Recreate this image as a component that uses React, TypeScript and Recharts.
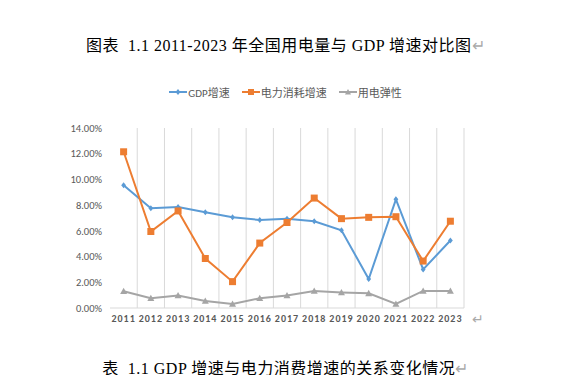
import React from "react";
import { LineChart, Line, XAxis, YAxis, CartesianGrid, Legend } from "recharts";

const years = ["2011", "2012", "2013", "2014", "2015", "2016", "2017", "2018", "2019", "2020", "2021", "2022", "2023"];
const gdpGrowth = [9.55, 7.75, 7.85, 7.45, 7.05, 6.85, 6.95, 6.75, 6.05, 2.25, 8.45, 3.0, 5.25];
const powerGrowth = [12.15, 5.95, 7.55, 3.85, 2.05, 5.05, 6.65, 8.55, 6.95, 7.05, 7.1, 3.65, 6.75];
const elasticity = [1.3, 0.76, 0.98, 0.55, 0.31, 0.76, 0.98, 1.32, 1.21, 1.14, 0.31, 1.33, 1.33];
const yTicks = [0, 2, 4, 6, 8, 10, 12, 14];

const series = [
  { key: "gdp", name: "GDP增速", color: "#5B9BD5", shape: "diamond" },
  { key: "power", name: "电力消耗增速", color: "#ED7D31", shape: "square" },
  { key: "elastic", name: "用电弹性", color: "#A5A5A5", shape: "triangle" },
];

const data = years.map((y, i) => ({
  idx: i,
  year: y,
  gdp: gdpGrowth[i],
  power: powerGrowth[i],
  elastic: elasticity[i],
}));

const caption = { fontFamily: "'Liberation Serif', 'Noto Sans CJK SC', serif", color: "#000", letterSpacing: 0.5 };

function Marker({ cx, cy, shape, color, s }: any) {
  if (cx == null || cy == null) return null;
  if (shape === "square") {
    return <rect x={cx - s} y={cy - s} width={s * 2} height={s * 2} fill={color} />;
  }
  if (shape === "triangle") {
    return <polygon points={`${cx},${cy - s} ${cx + s},${cy + s * 0.8} ${cx - s},${cy + s * 0.8}`} fill={color} />;
  }
  return <polygon points={`${cx},${cy - s} ${cx + s * 0.8},${cy} ${cx},${cy + s} ${cx - s * 0.8},${cy}`} fill={color} />;
}

function makeDot(shape: string, color: string, s: number) {
  return (props: any) => <Marker key={props.index} cx={props.cx} cy={props.cy} shape={shape} color={color} s={s} />;
}

function LegendContent() {
  return (
    <div style={{ display: "flex", justifyContent: "center", gap: 12, fontSize: 11, color: "#595959" }}>
      {series.map((s) => (
        <div key={s.key} style={{ display: "flex", alignItems: "center" }}>
          <svg width={18} height={10}>
            <line x1={0} y1={5} x2={18} y2={5} stroke={s.color} strokeWidth={2} />
            <Marker cx={9} cy={5} shape={s.shape} color={s.color} s={3} />
          </svg>
          <span style={{ marginLeft: 1 }}>{s.name}</span>
        </div>
      ))}
    </div>
  );
}

export default function App() {
  return (
    <div style={{ position: "relative", width: 571, height: 383, margin: -8, background: "#fff" }}>
      <div style={{ ...caption, position: "absolute", top: 32, left: 0, width: 571, textAlign: "center", fontSize: 16 }}>
        图表&nbsp; 1.1 2011-2023 年全国用电量与 GDP 增速对比图<span style={{ color: "#aaa" }}>↵</span>
      </div>
      <LineChart
        width={571}
        height={383}
        data={data}
        margin={{ top: 112, right: 107, left: 61, bottom: 45 }}
        style={{ fontFamily: "Calibri, 'Liberation Sans', 'Noto Sans CJK SC', sans-serif" }}
      >
        <CartesianGrid
          horizontal={false}
          stroke="#d9d9d9"
          verticalCoordinatesGenerator={({ offset }: any) =>
            years.map((_, i) => offset.left + ((i + 1) * offset.width) / years.length)
          }
        />
        <XAxis
          dataKey="idx"
          type="number"
          domain={[-0.5, years.length - 0.5]}
          ticks={data.map((d) => d.idx)}
          tickFormatter={(v: number) => years[v]}
          interval={0}
          height={30}
          stroke="#d9d9d9"
          tickLine={false}
          tickSize={0}
          tickMargin={7}
          tick={{ fontSize: 10, fill: "#595959", letterSpacing: 1, fontWeight: 600 }}
        />
        <YAxis
          domain={[0, 14]}
          ticks={yTicks}
          width={49}
          axisLine={false}
          tickLine={false}
          tickSize={0}
          tickMargin={8}
          tickFormatter={(v: number) => `${v.toFixed(2)}%`}
          tick={{ fontSize: 10.5, fill: "#595959" }}
        />
        <Legend verticalAlign="top" wrapperStyle={{ top: 84, left: 0, width: 571 }} content={() => <LegendContent />} />
        {series.map((s) => (
          <Line
            key={s.key}
            type="linear"
            dataKey={s.key}
            name={s.name}
            stroke={s.color}
            strokeWidth={2}
            dot={makeDot(s.shape, s.color, s.shape === "diamond" ? 3 : 3.5)}
            activeDot={false}
            isAnimationActive={false}
          />
        ))}
      </LineChart>
      <div style={{ position: "absolute", top: 311, left: 472, fontSize: 14, color: "#aaa" }}>↵</div>
      <div style={{ ...caption, position: "absolute", top: 355, left: 0, width: 571, textAlign: "center", fontSize: 16 }}>
        表&nbsp; 1.1 GDP 增速与电力消费增速的关系变化情况<span style={{ color: "#aaa" }}>↵</span>
      </div>
    </div>
  );
}
